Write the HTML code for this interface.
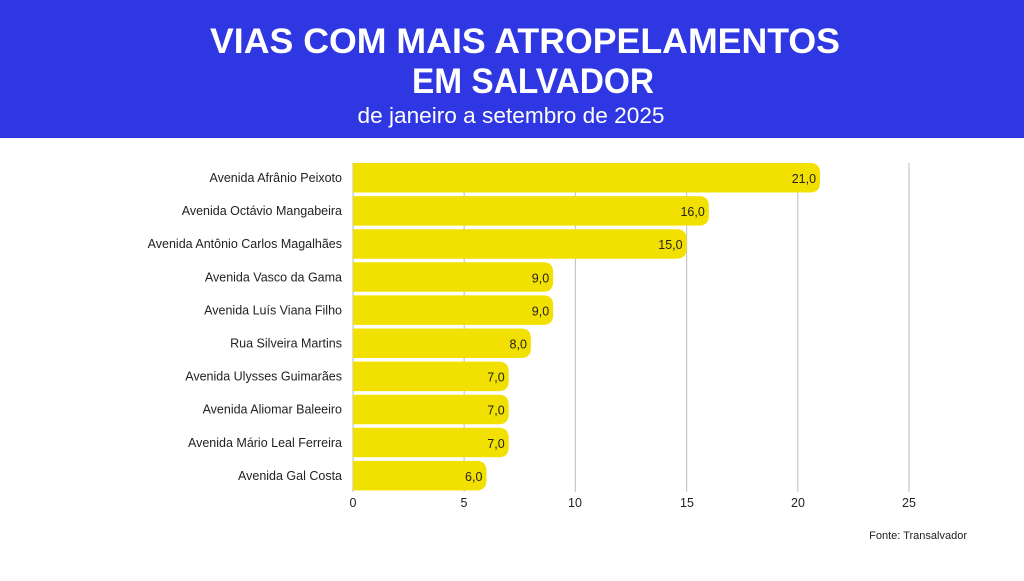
<!DOCTYPE html>
<html><head><meta charset="utf-8"><style>
body{margin:0;width:1024px;height:576px;background:#fff;overflow:hidden;font-family:"Liberation Sans",sans-serif}
</style></head><body>
<svg width="1024" height="576" xmlns="http://www.w3.org/2000/svg" font-family="Liberation Sans, sans-serif">
<rect x="0" y="0" width="1024" height="138" fill="#2f37e3"/>
<text x="525" y="53" text-anchor="middle" fill="#fff" font-size="35" font-weight="bold" textLength="630" lengthAdjust="spacingAndGlyphs">VIAS COM MAIS ATROPELAMENTOS</text>
<text x="533" y="93" text-anchor="middle" fill="#fff" font-size="35" font-weight="bold" textLength="242" lengthAdjust="spacingAndGlyphs">EM SALVADOR</text>
<text x="511" y="123" text-anchor="middle" fill="#fff" font-size="22" textLength="307" lengthAdjust="spacingAndGlyphs">de janeiro a setembro de 2025</text>
<g stroke="#c8c8c8" stroke-width="1.2">
<line x1="353" y1="163" x2="353" y2="492"/>
<line x1="464.2" y1="163" x2="464.2" y2="492"/>
<line x1="575.4" y1="163" x2="575.4" y2="492"/>
<line x1="686.6" y1="163" x2="686.6" y2="492"/>
<line x1="797.8" y1="163" x2="797.8" y2="492"/>
<line x1="909" y1="163" x2="909" y2="492"/>
</g>
<g font-size="12.5" fill="#222" text-anchor="middle">
<text x="353" y="507">0</text><text x="464" y="507">5</text><text x="575" y="507">10</text><text x="687" y="507">15</text><text x="798" y="507">20</text><text x="909" y="507">25</text>
</g>
<text x="967" y="539" text-anchor="end" font-size="11" fill="#222">Fonte: Transalvador</text>
<g id="bars" fill="#f2e100"></g>
<g id="labels" font-size="12.5" fill="#222"></g>
<script>
var d=[["Avenida Afrânio Peixoto",21],["Avenida Octávio Mangabeira",16],["Avenida Antônio Carlos Magalhães",15],["Avenida Vasco da Gama",9],["Avenida Luís Viana Filho",9],["Rua Silveira Martins",8],["Avenida Ulysses Guimarães",7],["Avenida Aliomar Baleeiro",7],["Avenida Mário Leal Ferreira",7],["Avenida Gal Costa",6]];
var ns="http://www.w3.org/2000/svg",b=document.getElementById("bars"),l=document.getElementById("labels");
d.forEach(function(r,i){var y=163+i*33.1,w=r[1]*22.24;
var p=document.createElementNS(ns,"path");var R=10,x0=353,x1=353+w,h=29.5;
p.setAttribute("d","M"+x0+" "+y+"H"+(x1-R)+"Q"+x1+" "+y+" "+x1+" "+(y+R)+"V"+(y+h-R)+"Q"+x1+" "+(y+h)+" "+(x1-R)+" "+(y+h)+"H"+x0+"Z");b.appendChild(p);
var t=document.createElementNS(ns,"text");t.setAttribute("x",342);t.setAttribute("y",y+19);t.setAttribute("text-anchor","end");t.textContent=r[0];l.appendChild(t);
var v=document.createElementNS(ns,"text");v.setAttribute("x",x1-4);v.setAttribute("y",y+20);v.setAttribute("text-anchor","end");v.textContent=r[1]+",0";l.appendChild(v);});
</script>
</svg>
</body></html>
